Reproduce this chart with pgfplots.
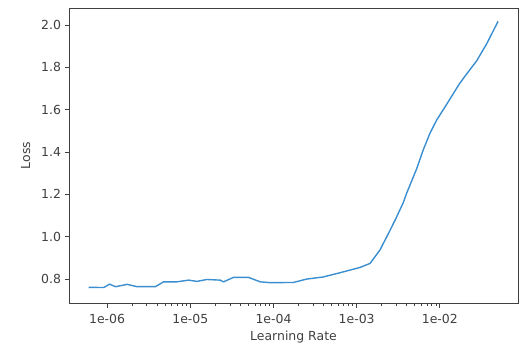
\documentclass[border=0pt]{standalone}
\usepackage{pgfplots}
\pgfplotsset{compat=1.18}
\usepackage{fontspec}
\setmainfont{DejaVu Sans}
\definecolor{c0}{HTML}{3B8FD0}
\begin{document}
\begin{tikzpicture}
\begin{axis}[
  scale only axis,
  width=449bp, height=295bp,
  xmode=log,
  xmin=3.48e-7, xmax=8.71e-2,
  ymin=0.687, ymax=2.08,
  xtick={1e-6,1e-5,1e-4,1e-3,1e-2},
  xticklabels={1e-06,1e-05,1e-04,1e-03,1e-02},
  ytick={0.8,1.0,1.2,1.4,1.6,1.8,2.0},
  yticklabel style={/pgf/number format/.cd, fixed, fixed zerofill, precision=1},
  /pgf/number format/assume math mode=true,
  tick pos=left,
  tick align=outside,
  major tick length=4.5bp,
  minor tick length=2.5bp,
  every tick/.style={black!75, line width=0.7bp},
  axis line style={black!75, line width=0.9bp},
  tick label style={font=\fontsize{12.5}{14}\selectfont, text=black!75},
  xticklabel style={yshift=-3bp},
  label style={font=\fontsize{12.5}{14}\selectfont, text=black!75},
  xlabel={Learning Rate},
  ylabel={Loss},
  xlabel style={yshift=-1bp},
  ylabel style={yshift=4bp},
]
\addplot[c0, line width=1.4bp, no markers] coordinates {
(6.01e-7,0.761) (9.10e-7,0.760) (1.07e-6,0.776) (1.26e-6,0.764) (1.74e-6,0.775)
(2.29e-6,0.764) (3.80e-6,0.764) (4.78e-6,0.787) (6.92e-6,0.787) (9.55e-6,0.795)
(1.20e-5,0.789) (1.58e-5,0.798) (2.29e-5,0.795) (2.51e-5,0.787) (3.31e-5,0.808)
(5.01e-5,0.808) (6.92e-5,0.787) (9.12e-5,0.783) (1.74e-4,0.784) (2.51e-4,0.800)
(3.98e-4,0.810) (6.92e-4,0.834) (1.10e-3,0.855) (1.45e-3,0.874) (1.905e-3,0.937)
(2.52e-3,1.030) (3.03e-3,1.094) (3.63e-3,1.160) (3.99e-3,1.205) (5.26e-3,1.320)
(6.32e-3,1.410) (7.60e-3,1.488) (9.14e-3,1.550) (1.208e-2,1.625) (1.74e-2,1.725)
(2.10e-2,1.768) (2.77e-2,1.830) (3.65e-2,1.910) (5.02e-2,2.017)
};
\end{axis}
\pgfresetboundingbox
\path[use as bounding box] ([shift={(-69bp,-42bp)}]current axis.south west) rectangle ([shift={(2bp,8bp)}]current axis.north east);
\end{tikzpicture}
\end{document}
